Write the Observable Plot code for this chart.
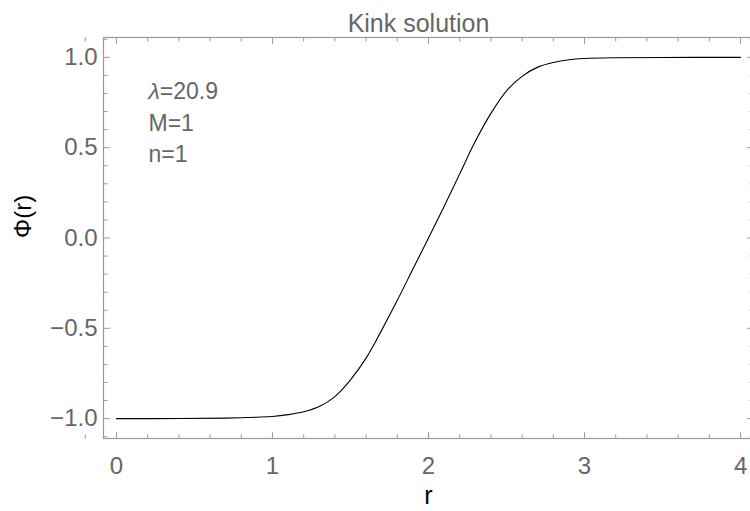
<!DOCTYPE html>
<html><head><meta charset="utf-8">
<script src="https://cdn.jsdelivr.net/npm/d3@7"></script>
<script src="https://cdn.jsdelivr.net/npm/@observablehq/plot@0.6"></script>
<style>body{margin:0;background:#fff;overflow:hidden}</style>
</head><body><div id="chart"></div>
<script>
const title = "Kink solution";
const xLabel = "r";
const yLabel = "Φ(r)";
const annotation = ["λ=20.9", "M=1", "n=1"];
const rValues = [0, 0.4, 0.7, 0.9, 1.0, 1.1, 1.2, 1.3, 1.4, 1.5, 1.6, 1.7, 1.8, 1.9, 2.0, 2.1, 2.2, 2.3, 2.4, 2.5, 2.6, 2.7, 2.8, 2.9, 3.0, 3.2, 3.5, 4.0];
const phiValues = [-1.0, -0.9995, -0.997, -0.992, -0.988, -0.978, -0.962, -0.933, -0.878, -0.785, -0.665, -0.51, -0.345, -0.172, 0.0, 0.175, 0.355, 0.535, 0.69, 0.815, 0.895, 0.946, 0.972, 0.987, 0.994, 0.998, 0.9995, 1.0];
const xTicks = [0, 1, 2, 3, 4];
const yTicks = [-1.0, -0.5, 0.0, 0.5, 1.0];

const data = rValues.map((r, i) => ({r, phi: phiValues[i]}));
const xMinor = d3.range(-0.2, 4.21, 0.2).map(v => +v.toFixed(1)).filter(v => !xTicks.includes(v));
const yMinor = d3.range(-1.1, 1.11, 0.1).map(v => +v.toFixed(1)).filter(v => !yTicks.some(t => Math.abs(t - v) < 1e-9));

const tickColor = "#999";
const labelColor = "#666";
const segment = {draw(context, l) { context.moveTo(0, 0); context.lineTo(0, -l); }};

// inward tick: rotate 0 = up (bottom edge), 180 = down (top edge), 90 = right (left edge), -90 = left (right edge)
function ticks(values, channel, frameAnchor, rotate, length) {
  return Plot.vector(values, {
    [channel]: d => d, frameAnchor, rotate, length, anchor: "start",
    shape: segment, stroke: tickColor, strokeWidth: 1
  });
}

const chart = Plot.plot({
  width: 750,
  height: 511,
  marginTop: 37,
  marginBottom: 73,
  marginLeft: 103,
  marginRight: -3,
  style: {fontFamily: "'Liberation Sans', Arial, sans-serif", fontSize: "24px", background: "#fff", overflow: "hidden"},
  x: {domain: [-0.083, 4.083], label: null},
  y: {domain: [-1.11, 1.11], label: null},
  marks: [
    Plot.frame({stroke: tickColor, strokeWidth: 1.2}),
    Plot.axisX(xTicks, {anchor: "bottom", tickSize: 0, tickPadding: 18, tickFormat: d => String(d), fill: labelColor, fontSize: 24, label: null}),
    Plot.axisY(yTicks, {anchor: "left", tickSize: 0, tickPadding: 6, tickFormat: d => d.toFixed(1).replace("-", "\u2212"), fill: labelColor, fontSize: 24, label: null}),
    ticks(xTicks, "x", "bottom", 0, 6),
    ticks(xMinor, "x", "bottom", 0, 3.5),
    ticks(xTicks, "x", "top", 180, 6),
    ticks(xMinor, "x", "top", 180, 3.5),
    ticks(yTicks, "y", "left", 90, 6),
    ticks(yMinor, "y", "left", 90, 3.5),
    ticks(yTicks, "y", "right", -90, 6),
    ticks(yMinor, "y", "right", -90, 3.5),
    Plot.line(data, {x: "r", y: "phi", stroke: "#000", strokeWidth: 1.1, curve: "catmull-rom"}),
    Plot.text([title], {text: d => d, frameAnchor: "top", dx: -10, dy: -23, fill: labelColor, fontSize: 25}),
    Plot.text([xLabel], {text: d => d, frameAnchor: "bottom", dy: 65, fill: "#000", fontSize: 25}),
    Plot.text([yLabel], {text: d => d, frameAnchor: "left", rotate: -90, dx: -80, fill: "#000", fontSize: 24}),
    Plot.text([annotation.join("\n")], {text: d => d, frameAnchor: "top-left", textAnchor: "start", lineAnchor: "top", dx: 45, dy: 39, lineHeight: 1.375, fill: labelColor, fontSize: 23})
  ]
});

// italicize the lambda symbol
chart.querySelectorAll("text tspan, text").forEach(node => {
  if (node.childNodes.length === 1 && node.firstChild.nodeType === 3 && node.textContent.startsWith("λ")) {
    const rest = node.textContent.slice(1);
    node.textContent = "";
    const it = document.createElementNS("http://www.w3.org/2000/svg", "tspan");
    it.setAttribute("font-style", "italic");
    it.textContent = "λ";
    node.appendChild(it);
    node.appendChild(document.createTextNode(rest));
  }
});

document.getElementById("chart").appendChild(chart);
</script>
</body></html>
